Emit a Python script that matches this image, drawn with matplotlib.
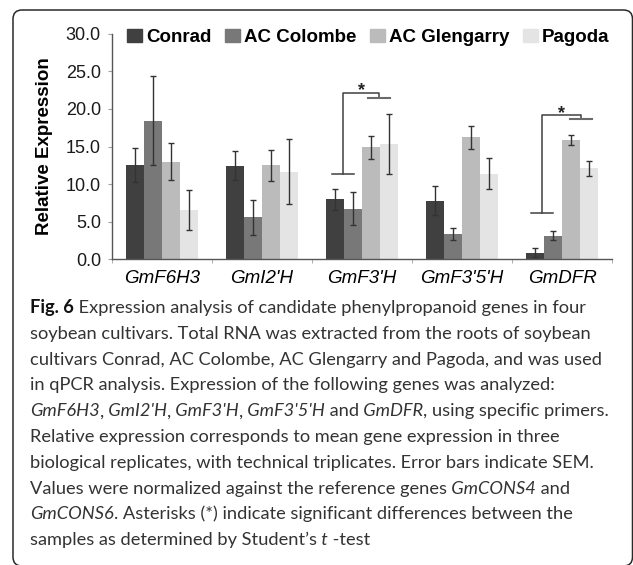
"""
bar chart of relative expression for phenylpropanoid genes
"""
import matplotlib

matplotlib.use("Agg")
import matplotlib.pyplot as plt
import numpy as np
from matplotlib.patches import FancyBboxPatch, Patch
from matplotlib.ticker import FormatStrFormatter
from matplotlib.transforms import IdentityTransform

genes = ["GmF6H3", "GmI2'H", "GmF3'H", "GmF3'5'H", "GmDFR"]
cultivars = ["Conrad", "AC Colombe", "AC Glengarry", "Pagoda"]

conrad = [12.5, 12.45, 8.0, 7.8, 0.9]
conrad_err = [2.25, 1.95, 1.4, 1.9, 0.55]
colombe = [18.45, 5.6, 6.7, 3.4, 3.15]
colombe_err = [5.9, 2.35, 2.2, 0.8, 0.6]
glengarry = [13.0, 12.5, 14.9, 16.2, 15.85]
glengarry_err = [2.5, 2.05, 1.5, 1.5, 0.65]
pagoda = [6.55, 11.65, 15.3, 11.4, 12.1]
pagoda_err = [2.7, 4.3, 4.0, 2.05, 1.0]

# significance brackets: gene index, left leg, right leg, low end, top, right end, star
sig_gene = [2, 4]
sig_left = [-0.19, -0.2]
sig_right = [0.17, 0.19]
sig_low = [11.3, 6.1]
sig_top = [22.1, 19.2]
sig_right_end = [21.4, 18.6]
sig_star = [23.2, 20.2]

caption = [
    [("Fig. 6", "b"), (" Expression analysis of candidate phenylpropanoid genes in four", "n")],
    [("soybean cultivars. Total RNA was extracted from the roots of soybean", "n")],
    [("cultivars Conrad, AC Colombe, AC Glengarry and Pagoda, and was used", "n")],
    [("in qPCR analysis. Expression of the following genes was analyzed:", "n")],
    [("GmF6H3", "i"), (",", "n"), (" GmI2'H", "i"), (",", "n"), (" GmF3'H", "i"),
     (",", "n"), (" GmF3'5'H", "i"), (" and", "n"), (" GmDFR", "i"),
     (", using specific primers.", "n")],
    [("Relative expression corresponds to mean gene expression in three", "n")],
    [("biological replicates, with technical triplicates. Error bars indicate SEM.", "n")],
    [("Values were normalized against the reference genes", "n"), (" GmCONS4", "i"), (" and", "n")],
    [("GmCONS6", "i"), (". Asterisks (*) indicate significant differences between the", "n")],
    [("samples as determined by Student\u2019s", "n"), (" t", "i"), (" -test", "n")],
]
# approximate line lengths in the original layout (px), used to size the font
caption_len = [564, 558, 570, 543, 557, 548, 558, 536, 528, 342]

colors = ["#404040", "#787878", "#bbbbbb", "#e4e4e4"]

W, H = 633, 565
plt.rcParams["font.family"] = ["Liberation Sans", "DejaVu Sans"]


def draw_caption(fig, renderer, size):
    arts = []
    widths = []
    for i, parts in enumerate(caption):
        x = 30
        y = H - (313 + i * 25.8)
        for text, style in parts:
            t = fig.text(
                x, y, text, transform=IdentityTransform(),
                family="Lato", fontsize=size,
                weight="bold" if style == "b" else "normal",
                style="italic" if style == "i" else "normal",
                color="#111111" if style == "b" else "#333333",
                ha="left", va="baseline",
            )
            arts.append(t)
            x += t.get_window_extent(renderer).width
        widths.append(x - 30)
    return arts, widths


fig = plt.figure(figsize=(W / 100, H / 100), dpi=100)
ax = fig.add_axes([112 / W, 1 - 259.3 / H, 500 / W, 225.6 / H])

x = np.arange(len(genes))
width = 0.18
offsets = (np.arange(4) - 1.5) * width
series = [(conrad, conrad_err), (colombe, colombe_err),
          (glengarry, glengarry_err), (pagoda, pagoda_err)]
for k, (vals, err) in enumerate(series):
    ax.bar(x + offsets[k], vals, width, color=colors[k], yerr=err,
           error_kw=dict(ecolor="#333333", elinewidth=1, capsize=2.5, capthick=1))

# brackets
for g, xl, xr, lo, top, re, st in zip(sig_gene, sig_left, sig_right, sig_low,
                                      sig_top, sig_right_end, sig_star):
    lc = "#404040"
    hw = 0.11
    ax.plot([g + xl - hw, g + xl + hw], [lo, lo], color=lc, lw=1.1)
    ax.plot([g + xl, g + xl, g + xr, g + xr], [lo, top, top, re], color=lc, lw=1.1)
    ax.plot([g + xr - hw, g + xr + hw], [re, re], color="#6a6a6a", lw=1.5)
    ax.annotate("*", (g + (xl + xr) / 2, st), xytext=(0, -7.5),
                textcoords="offset points", ha="center", va="baseline",
                fontsize=13, weight="bold", color="#222222")

ax.set_xlim(-0.5, 4.5)
ax.set_ylim(0, 30)
ax.set_yticks(np.arange(0, 31, 5))
ax.yaxis.set_major_formatter(FormatStrFormatter("%.1f"))
ax.set_xticks(x)
ax.set_xticklabels(genes, style="italic", fontsize=13.5)
ax.set_xticks(np.arange(-0.5, 5), minor=True)
ax.tick_params(axis="x", which="major", length=0, pad=7.5)
ax.tick_params(axis="x", which="minor", length=3, color="#a0a0a0")
ax.tick_params(axis="y", length=3, color="#a0a0a0", labelsize=13, pad=5,
               labelcolor="#1a1a1a")
for s in ["top", "right"]:
    ax.spines[s].set_visible(False)
for s in ["left", "bottom"]:
    ax.spines[s].set_color("#555555")
    ax.spines[s].set_linewidth(1)

ax.set_ylabel("Relative Expression", fontsize=13.5, weight="bold")
ax.yaxis.set_label_coords(-0.118, 0.5)

handles = [Patch(color=c, label=n) for c, n in zip(colors, cultivars)]
ax.legend(handles=handles, ncol=4, frameon=False, loc="upper left",
          bbox_to_anchor=(127 / W, 1 - 29 / H), bbox_transform=fig.transFigure,
          borderaxespad=0, borderpad=0, handlelength=0.8, handleheight=0.72,
          handletextpad=0.22, columnspacing=0.72,
          prop=dict(size=13.5, weight="bold"))

# frame around figure and caption
frame = FancyBboxPatch((13, -1), 632.5 - 13, H - 10 + 1,
                       boxstyle="round,pad=0,rounding_size=9",
                       transform=IdentityTransform(), fill=False,
                       edgecolor="#2a2a2a", lw=1.1)
fig.add_artist(frame)

renderer = fig.canvas.get_renderer()
arts, widths = draw_caption(fig, renderer, 12)
w = np.array(widths)
t = np.array(caption_len)
scale = (w * t).sum() / (w * w).sum()
for a in arts:
    a.remove()
draw_caption(fig, renderer, 12 * scale)

fig.savefig("out.png", dpi=100)
